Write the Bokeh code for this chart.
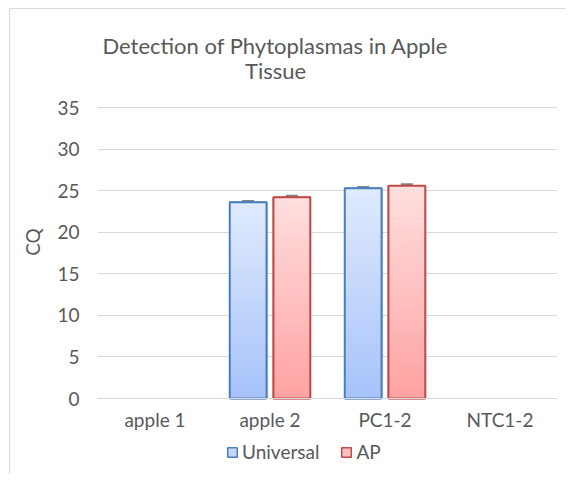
from bokeh.plotting import figure
from bokeh.models import (ColumnDataSource, Label, Legend, LegendItem, Whisker, Range1d, TeeHead)
from bokeh.transform import dodge
from bokeh.embed import file_html
from bokeh.resources import INLINE

# ---------------- data ----------------
categories = ["apple 1", "apple 2", "PC1-2", "NTC1-2"]
universal = [0.0, 23.6, 25.3, 0.0]
ap = [0.0, 24.2, 25.6, 0.0]
universal_err = [0.0, 0.12, 0.12, 0.0]
ap_err = [0.0, 0.15, 0.15, 0.0]
series_names = ["Universal", "AP"]
y_ticks = [0, 5, 10, 15, 20, 25, 30, 35]
title_lines = ["Detection of Phytoplasmas in Apple", "Tissue"]
y_label = "CQ"

# ---------------- styles ----------------
FONT = "Lato"
TXT = "#595959"
GRID = "#d9d9d9"
styles = {
    "Universal": dict(bottom="#a6c3fa", top="#e0eafd", line="#4a7ebb", offset=-0.19),
    "AP": dict(bottom="#ffa2a2", top="#ffdfdf", line="#be4b48", offset=0.19),
}
BAR_W = 0.32
N_SLICES = 40

# frame spans the full height; value axis 0..35 occupies its middle part
PX_PER_UNIT = 291 / 35.0
y_start = -(474 - 398) / PX_PER_UNIT
y_end = 35 + (107 - 9) / PX_PER_UNIT

p = figure(x_range=categories, y_range=Range1d(y_start, y_end),
           frame_width=460, frame_height=465,
           output_backend="svg", toolbar_location=None,
           min_border_left=87, min_border_right=8, min_border_top=0, min_border_bottom=0)
p.styles = {"margin-left": "9px", "margin-top": "8px",
            "border-left": "1px solid #d9d9d9", "border-top": "1px solid #d9d9d9"}
p.title.visible = False
p.outline_line_color = None
p.background_fill_color = "white"
p.border_fill_color = "white"
p.x_range.range_padding = 0

p.xgrid.grid_line_color = None
p.ygrid.grid_line_color = GRID
p.ygrid.grid_line_width = 1
p.ygrid.ticker = y_ticks
p.yaxis.ticker = y_ticks
p.yaxis.bounds = (0, 35)
p.yaxis.axis_line_color = None
p.yaxis.major_tick_line_color = None
p.yaxis.minor_tick_line_color = None
p.yaxis.major_tick_out = 0
p.yaxis.major_label_standoff = 18
p.yaxis.major_label_text_font = FONT
p.yaxis.major_label_text_font_size = "19px"
p.yaxis.major_label_text_color = TXT
p.yaxis.axis_label = y_label
p.yaxis.axis_label_text_font = FONT
p.yaxis.axis_label_text_font_size = "19px"
p.yaxis.axis_label_text_font_style = "normal"
p.yaxis.axis_label_text_color = TXT
p.yaxis.axis_label_standoff = 10

p.xaxis.fixed_location = 0
p.xaxis.axis_line_color = GRID
p.xaxis.major_tick_line_color = None
p.xaxis.minor_tick_line_color = None
p.xaxis.major_tick_out = 0
p.xaxis.major_label_standoff = 9
p.xaxis.major_label_text_font = FONT
p.xaxis.major_label_text_font_size = "19px"
p.xaxis.major_label_text_color = TXT


def hex2rgb(h):
    h = h.lstrip("#")
    return tuple(int(h[i:i + 2], 16) for i in (0, 2, 4))


def mix(c1, c2, t):
    a, b = hex2rgb(c1), hex2rgb(c2)
    return "#%02x%02x%02x" % tuple(int(round(a[i] + (b[i] - a[i]) * t)) for i in range(3))


legend_items = []
for name, vals, errs in [("Universal", universal, universal_err), ("AP", ap, ap_err)]:
    st = styles[name]
    visible = [1.0 if v > 0 else 0.0 for v in vals]
    # soft shadow
    sh = ColumnDataSource(dict(x=categories, top=vals))
    p.vbar(x=dodge("x", st["offset"] + 0.012, range=p.x_range), top="top", bottom=0,
           width=BAR_W + 0.01, source=sh, fill_color="#000000", fill_alpha=0.06, line_color=None)
    # base bar (also used as the legend swatch)
    bs = ColumnDataSource(dict(x=categories, top=vals, alpha=visible))
    base = p.vbar(x=dodge("x", st["offset"], range=p.x_range), top="top", bottom=0, width=BAR_W,
                  source=bs, fill_color=mix(st["bottom"], st["top"], 0.5), fill_alpha="alpha",
                  line_color=st["line"], line_width=1.5, line_alpha="alpha")
    # vertical gradient
    xs, bots, tops, cols = [], [], [], []
    for c, v in zip(categories, vals):
        if v <= 0:
            continue
        for i in range(N_SLICES):
            xs.append(c)
            bots.append(v * i / N_SLICES)
            tops.append(v * (i + 1) / N_SLICES)
            cols.append(mix(st["bottom"], st["top"], (i + 0.5) / N_SLICES))
    gs = ColumnDataSource(dict(x=xs, bottom=bots, top=tops, color=cols))
    p.vbar(x=dodge("x", st["offset"], range=p.x_range), top="top", bottom="bottom", width=BAR_W,
           source=gs, fill_color="color", line_color="color", line_width=0.5)
    # outline
    os_ = ColumnDataSource(dict(x=categories, top=vals, alpha=visible))
    p.vbar(x=dodge("x", st["offset"], range=p.x_range), top="top", bottom=0, width=BAR_W,
           source=os_, fill_color=None, line_color=st["line"], line_width=2, line_alpha="alpha")
    # error bars
    wx = [c for c, v in zip(categories, vals) if v > 0]
    wu = [v + e for v, e in zip(vals, errs) if v > 0]
    wl = [v - e for v, e in zip(vals, errs) if v > 0]
    ws = ColumnDataSource(dict(x=wx, upper=wu, lower=wl))
    w = Whisker(base=dodge("x", st["offset"], range=p.x_range), upper="upper", lower="lower", source=ws,
                line_color="#808080", line_width=2,
                upper_head=TeeHead(size=12, line_color="#808080", line_width=2.5),
                lower_head=TeeHead(size=12, line_color="#808080", line_width=2.5))
    p.add_layout(w)
    first_visible = visible.index(1.0)
    legend_items.append(LegendItem(label=name, renderers=[base], index=first_visible))

legend = Legend(items=legend_items, orientation="horizontal", location=(129, 11),
                label_text_font=FONT, label_text_font_size="19px", label_text_color=TXT,
                glyph_width=12, glyph_height=12, label_standoff=4, spacing=21,
                padding=0, margin=0, border_line_color=None, background_fill_alpha=0)
p.add_layout(legend, "center")

for txt, yy in zip(title_lines, [42.47, 39.46]):
    p.add_layout(Label(x=1.548, y=yy, text=txt, text_align="center", text_baseline="middle",
                       text_font=FONT, text_font_size="22px", text_color=TXT))

open("out.html", "w").write(file_html(p, INLINE))
